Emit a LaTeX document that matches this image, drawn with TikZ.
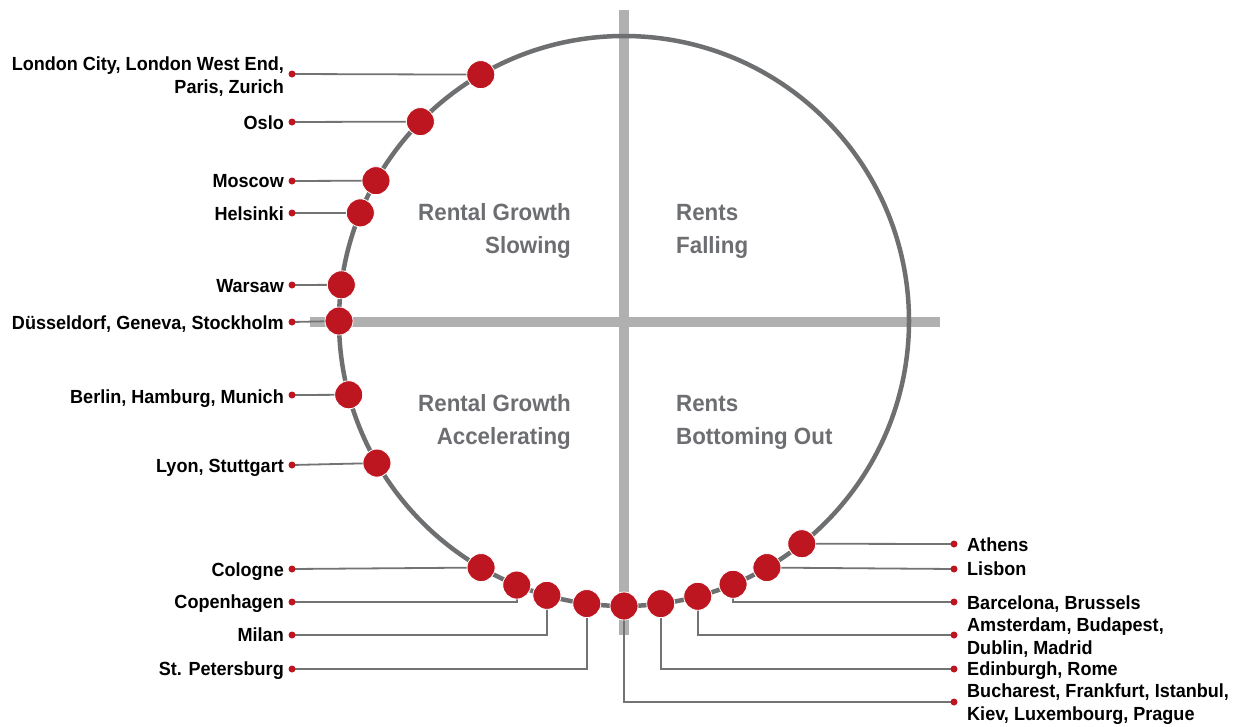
\documentclass[tikz,border=0pt]{standalone}
\usepackage{fontspec}
\setmainfont{Liberation Sans}
\newfontfamily\narrowsans{Liberation Sans}[FakeStretch=0.95]
\usetikzlibrary{calc}
\definecolor{dotred}{HTML}{BE1621}
\definecolor{ringgray}{HTML}{6E6F71}
\definecolor{axisgray}{HTML}{B0B0B1}
\definecolor{quadgray}{HTML}{6D6E71}
\definecolor{wiregray}{HTML}{727375}
\pgfdeclarelayer{back}
\pgfdeclarelayer{wires}
\pgfsetlayers{back,wires,main}
\begin{document}
\begin{tikzpicture}[x=1pt,y=-1pt,
  city/.style={circle,fill=dotred,draw=white,line width=0.8pt,minimum size=28pt,inner sep=0pt},
  tick/.style={circle,fill=dotred,minimum size=7pt,inner sep=0pt},
  wire/.style={draw=wiregray,line width=1.8pt},
  lbl/.style={font=\narrowsans\bfseries\fontsize{19}{23}\selectfont,inner sep=0pt},
  lbll/.style={lbl,anchor=base east,align=right},
  lblr/.style={lbl,anchor=base west,align=left},
  quadtxt/.style={font=\narrowsans\bfseries\fontsize{23.5}{33}\selectfont,text=quadgray,inner sep=0pt}]
\useasboundingbox (0,0) rectangle (1237,726);
\coordinate (c) at (624,321);

% white sheet, quadrant axes and the cycle ring
\begin{pgfonlayer}{back}
  \fill[white] (0,0) rectangle (1237,726);
  \draw[axisgray,line width=10pt] (624,10) -- (624,635);
  \draw[axisgray,line width=10pt] (310,321.5) -- (940,321.5);
  \draw[ringgray,line width=4.5pt] (c) circle[radius=285pt];
\end{pgfonlayer}

% quadrant titles (base anchor sits on the last line)
\node[quadtxt,anchor=base east,align=right] (q1) at (571,253) {Rental Growth\\Slowing};
\node[quadtxt,anchor=base west,align=left] (q2) at (676,253) {Rents\\Falling};
\node[quadtxt,anchor=base east,align=right] (q3) at (571,444) {Rental Growth\\Accelerating};
\node[quadtxt,anchor=base west,align=left] (q4) at (676,444) {Rents\\Bottoming Out};

% markets on the ring (angles counter-clockwise from east)
\foreach \n/\a in {lon/120.17,osl/135.6,mos/150.5,hel/157.7,war/172.7,due/180,
                  ber/195.0,lyo/209.9,col/239.9,cop/247.9,mil/254.3,stp/262.5,
                  buc/270,edi/277.4,ams/285.0,bar/292.5,lis/300.1,ath/308.6}
  \node[city] (\n) at ([shift={(\a:285pt)}]c) {};

% label ticks
\foreach \n/\y in {lon/74,osl/122,mos/181,hel/213,war/285,due/322,ber/395,lyo/465,
                  col/569,cop/602,mil/635,stp/669}
  \node[tick] (t\n) at (292,\y) {};
\foreach \n/\y in {ath/544,lis/569,bar/602,ams/635,edi/669,buc/702}
  \node[tick] (t\n) at (954,\y) {};

% label texts
\node[lbll] (llon) at (284,93) {London City, London West End,\\Paris, Zurich};
\node[lbll] (losl) at (284,129) {Oslo};
\node[lbll] (lmos) at (284,187) {Moscow};
\node[lbll] (lhel) at (284,220) {Helsinki};
\node[lbll] (lwar) at (284,292) {Warsaw};
\node[lbll] (ldue) at (284,329) {Düsseldorf, Geneva, Stockholm};
\node[lbll] (lber) at (284,403) {Berlin, Hamburg, Munich};
\node[lbll] (llyo) at (284,472) {Lyon, Stuttgart};
\node[lbll] (lcol) at (284,576) {Cologne};
\node[lbll] (lcop) at (284,608) {Copenhagen};
\node[lbll] (lmil) at (284,641) {Milan};
\node[lbll] (lstp) at (284,675) {St. Petersburg};

\node[lblr] (lath) at (967,551) {Athens};
\node[lblr] (llis) at (967,575) {Lisbon};
\node[lblr] (lbar) at (967,609) {Barcelona, Brussels};
\node[lblr] (lams) at (967,654.5) {Amsterdam, Budapest,\\Dublin, Madrid};
\node[lblr] (ledi) at (967,675) {Edinburgh, Rome};
\node[lblr] (lbuc) at (967,720.5) {Bucharest, Frankfurt, Istanbul,\\Kiev, Luxembourg, Prague};

% connectors
\begin{pgfonlayer}{wires}
  \foreach \n in {lon,osl,mos,hel,war,due,ber,lyo,col}
    \draw[wire] (t\n.center) -- (\n.center);
  \foreach \n in {cop,mil,stp}
    \draw[wire] (\n.center) |- (t\n.center);
  \foreach \n in {ath,lis}
    \draw[wire] (\n.center) -- (t\n.center);
  \foreach \n in {bar,ams,edi,buc}
    \draw[wire] (\n.center) |- (t\n.center);
\end{pgfonlayer}
\end{tikzpicture}
\end{document}
